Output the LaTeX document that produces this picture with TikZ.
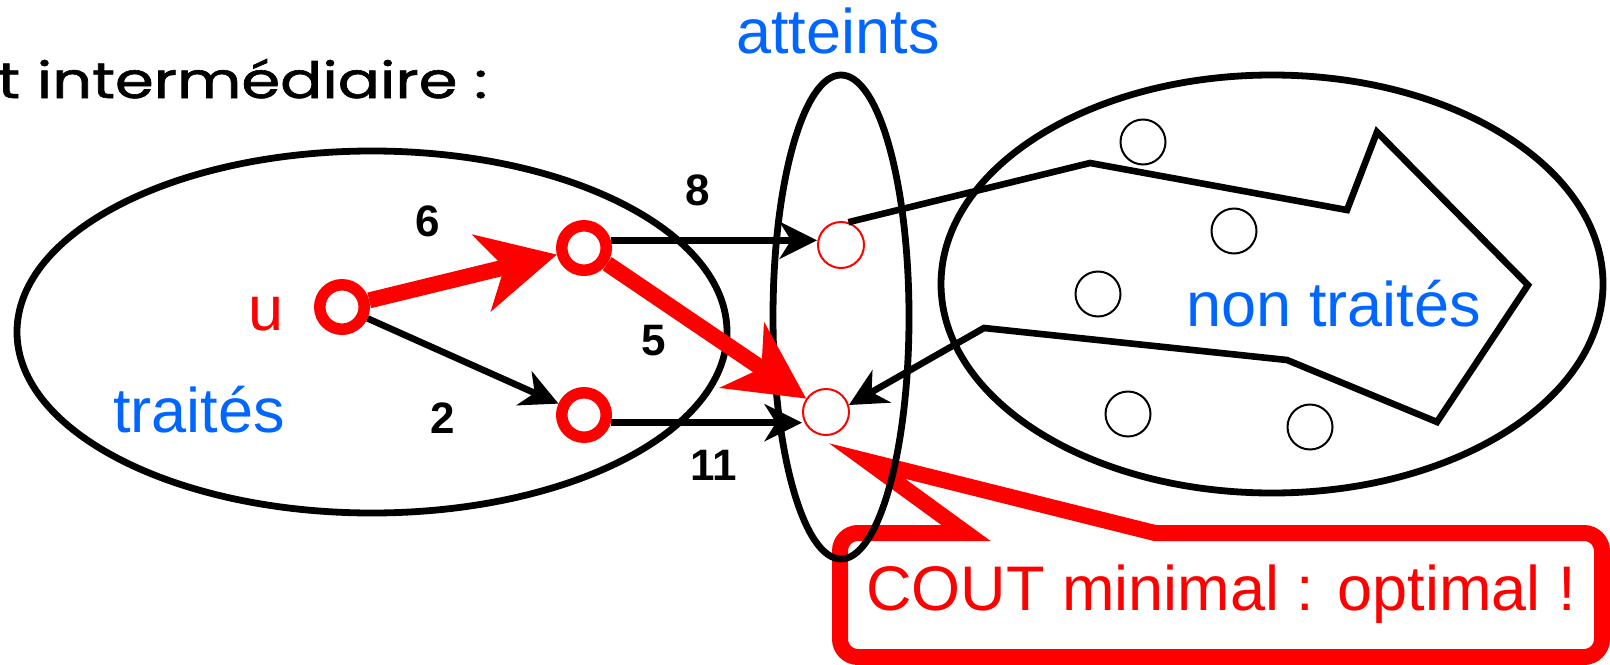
\documentclass[tikz,border=0pt]{standalone}
\usepackage{fontspec}
\setmainfont{Liberation Sans}
\newfontfamily\comicfont{Poppins}[FakeBold=1.2]
\usetikzlibrary{arrows.meta,positioning}
\definecolor{setblue}{RGB}{0,102,255}
\definecolor{pathred}{RGB}{255,0,0}

\begin{document}
\begin{tikzpicture}[x=0.5pt, y=-0.5pt,
  bignode/.style={circle, draw=pathred, line width=5.75pt, minimum size=22.25pt, inner sep=0pt},
  reached/.style={circle, draw=pathred, line width=1pt, minimum size=23pt, inner sep=0pt},
  waiting/.style={circle, draw=black, line width=1pt, minimum size=22.5pt, inner sep=0pt},
  setline/.style={black, line width=3.4pt},
  link/.style={black, line width=3.3pt, -{Stealth[length=19pt, width=19pt, inset=6pt, line width=0pt]}},
  best/.style={pathred, line width=8pt, -{Stealth[length=39pt, width=40pt, inset=12pt, line width=0pt]}},
  weight/.style={font=\fontsize{22}{26}\selectfont\bfseries, inner sep=0pt},
  setname/.style={font=\fontsize{31.5}{36}\selectfont, text=setblue, anchor=base, inner sep=0pt}]
  \useasboundingbox (0,0) rectangle (1610,664);

  % Title (cut at the left)
  \node[font=\comicfont\fontsize{25}{30}\selectfont, anchor=base west, inner sep=0pt]
    (title) at (-3,98) {\scalebox{1.25}[1]{t intermédiaire :}};

  % The two outer sets
  \draw[setline] (372,332) ellipse [x radius=355, y radius=181];
  \draw[setline] (1272,284) ellipse [x radius=331, y radius=209];

  % Vertices
  \node[bignode] (u) at (342,307) {};
  \node[bignode] (A) at (584,248) {};
  \node[bignode] (B) at (584,415) {};
  \node[reached] (C) at (841,245) {};
  \node[reached] (D) at (826,412) {};
  \foreach \n/\x/\y in {1/1143/142, 2/1234/231, 3/1098/294, 4/1128/414, 5/1310/427}{
    \node[waiting] (w\n) at (\x,\y) {};
  }

  % Black edges
  \draw[link] (u) -- (B);
  \draw[link] (A.16) -- (A.16 -| C.west);
  \draw[link] (B.-16) -- (B.-16 -| D.west);
  \draw[link] (C.72) -- (1090,163) -- (1347,210) -- (1377,132) -- (1528,285)
    -- (1437,422) -- (1287,360) -- (984,328) -- (D.17);

  % Callout
  \draw[pathred, line width=8pt, fill=white, rounded corners=9pt]
    (1155,533) -- (1602,533) -- (1602,657) -- (840,657) -- (840,533)
    [sharp corners] -- (966,533) -- (867,461) -- cycle;
  \node[setname, text=pathred] (cout) at (1221,610) {COUT minimal : optimal !};

  % Reached set
  \draw[setline] (841,317) ellipse [x radius=68, y radius=242];

  % Shortest path
  \draw[best] (u) -- (A);
  \draw[best] (A) -- (D);

  % Weights
  \node[weight] (l6) at (428,221) {6};
  \node[weight] (l8) at (698,190) {8};
  \node[weight] (l5) at (654,341) {5};
  \node[weight] (l2) at (443,418) {2};
  \node[weight] (l11) at (714,465) {11};

  % Labels
  \node[setname] (atteints) at (838,54) {atteints};
  \node[setname, text=pathred] (ulabel) at (266,330) {u};
  \node[setname] (traites) at (199,432) {traités};
  \node[setname] (nontraites) at (1334,326) {non traités};
\end{tikzpicture}
\end{document}
